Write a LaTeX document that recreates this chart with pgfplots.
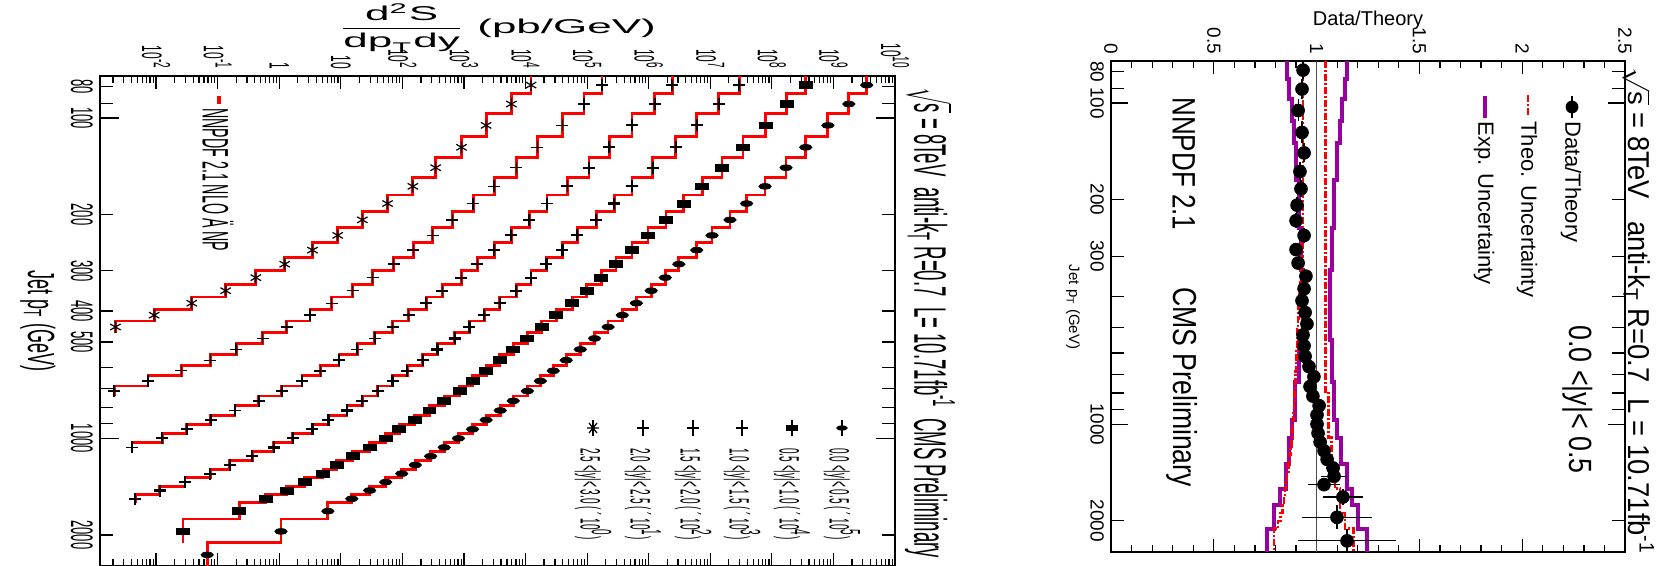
\documentclass[border=0pt]{standalone}
\usepackage{fontspec}
\setmainfont{Liberation Sans}
\usepackage{amsmath}
\usepackage{graphicx}
\usepackage{pgfplots}
\pgfplotsset{compat=1.18}
\definecolor{purp}{RGB}{153,0,160}
\definecolor{hred}{RGB}{255,0,0}
\newcommand{\lx}[1]{\scalebox{1}[2.35]{#1}}
\newcommand{\ly}[1]{\scalebox{1}[2.4]{#1}}
\begin{document}
\begin{tikzpicture}
\path[use as bounding box] (0pt,0pt) rectangle (837.5pt,283pt);
% ================= LEFT PANEL =================
\begin{axis}[
 at={(50pt,0pt)}, anchor=south west, scale only axis, width=397.5pt, height=245pt,
 xmode=log, ymode=log, y dir=reverse,
 xmin=1.23e-3, xmax=1e10, ymin=74, ymax=2500,
 axis line style={line width=1pt},
 tick align=inside, major tick length=6.5pt, minor tick length=3.5pt,
 tick style={black, line width=0.6pt},
 xtick={1e-2,1e-1,1,10,1e2,1e3,1e4,1e5,1e6,1e7,1e8,1e9,1e10},
 xticklabels={\lx{10\textsuperscript{-2}},\lx{10\textsuperscript{-1}},\lx{1},\lx{10},\lx{10\textsuperscript{2}},\lx{10\textsuperscript{3}},\lx{10\textsuperscript{4}},\lx{10\textsuperscript{5}},\lx{10\textsuperscript{6}},\lx{10\textsuperscript{7}},\lx{10\textsuperscript{8}},\lx{10\textsuperscript{9}},\lx{10\textsuperscript{10}}},
 minor xtick={2e-3,3e-3,4e-3,5e-3,6e-3,7e-3,8e-3,9e-3,2e-2,3e-2,4e-2,5e-2,6e-2,7e-2,8e-2,9e-2,0.2,0.3,0.4,0.5,0.6,0.7,0.8,0.9,2,3,4,5,6,7,8,9,20,30,40,50,60,70,80,90,200,300,400,500,600,700,800,900,2e3,3e3,4e3,5e3,6e3,7e3,8e3,9e3,2e4,3e4,4e4,5e4,6e4,7e4,8e4,9e4,2e5,3e5,4e5,5e5,6e5,7e5,8e5,9e5,2e6,3e6,4e6,5e6,6e6,7e6,8e6,9e6,2e7,3e7,4e7,5e7,6e7,7e7,8e7,9e7,2e8,3e8,4e8,5e8,6e8,7e8,8e8,9e8,2e9,3e9,4e9,5e9,6e9,7e9,8e9,9e9},
 xticklabel pos=right,
 xticklabel style={rotate=-90, anchor=east, font=\fontsize{6pt}{6pt}\selectfont},
 ytick={80,90,200,300,400,500,600,700,800,900,2000},
 yticklabels={\ly{80},,\ly{200},\ly{300},\ly{400},\ly{500},,,,,\ly{2000}},
 extra y ticks={100,1000}, extra y tick labels={\ly{100},\ly{1000}},
 extra y tick style={major tick length=9.5pt},
 yticklabel pos=left,
 yticklabel style={rotate=-90, anchor=north, font=\fontsize{6.5pt}{6.5pt}\selectfont},
 clip mode=individual,
]
% NLO theory histograms
\addplot[hred, line width=1.4pt] coordinates {(3.47e9,74)(3.47e9,84)(1.78e9,84)(1.78e9,97)(8.13e8,97)(8.13e8,114)(3.55e8,114)(3.55e8,133)(1.70e8,133)(1.70e8,153)(7.76e7,153)(7.76e7,174)(3.89e7,174)(3.89e7,196)(2.09e7,196)(2.09e7,220)(1.07e7,220)(1.07e7,245)(6.03e6,245)(6.03e6,272)(3.09e6,272)(3.09e6,300)(1.86e6,300)(1.86e6,330)(1.10e6,330)(1.10e6,362)(6.31e5,362)(6.31e5,395)(3.72e5,395)(3.72e5,430)(2.19e5,430)(2.19e5,468)(1.32e5,468)(1.32e5,507)(7.76e4,507)(7.76e4,548)(4.57e4,548)(4.57e4,592)(2.82e4,592)(2.82e4,638)(1.74e4,638)(1.74e4,686)(1.07e4,686)(1.07e4,737)(6.31e3,737)(6.31e3,790)(3.89e3,790)(3.89e3,846)(2.29e3,846)(2.29e3,905)(1.38e3,905)(1.38e3,967)(813,967)(813,1032)(479,1032)(479,1101)(288,1101)(288,1172)(162,1172)(162,1248)(97.7,1248)(97.7,1327)(53.7,1327)(53.7,1410)(29.5,1410)(29.5,1497)(15.1,1497)(15.1,1588)(6.17,1588)(6.17,1784)(1.07,1784)(1.07,2116)(0.0676,2116)(0.0676,2500)};
\addplot[hred, line width=1.4pt] coordinates {(3.55e8,74)(3.55e8,84)(1.74e8,84)(1.74e8,97)(7.94e7,97)(7.94e7,114)(3.39e7,114)(3.39e7,133)(1.55e7,133)(1.55e7,153)(7.41e6,153)(7.41e6,174)(3.72e6,174)(3.72e6,196)(1.91e6,196)(1.91e6,220)(9.77e5,220)(9.77e5,245)(5.37e5,245)(5.37e5,272)(2.95e5,272)(2.95e5,300)(1.70e5,300)(1.70e5,330)(9.77e4,330)(9.77e4,362)(5.75e4,362)(5.75e4,395)(3.16e4,395)(3.16e4,430)(1.82e4,430)(1.82e4,468)(1.07e4,468)(1.07e4,507)(6.31e3,507)(6.31e3,548)(3.80e3,548)(3.80e3,592)(2.29e3,592)(2.29e3,638)(1.38e3,638)(1.38e3,686)(851,686)(851,737)(479,737)(479,790)(275,790)(275,846)(158,846)(158,905)(89.1,905)(89.1,967)(53.7,967)(53.7,1032)(29.5,1032)(29.5,1101)(15.5,1101)(15.5,1172)(8.51,1172)(8.51,1248)(5.13,1248)(5.13,1327)(2.57,1327)(2.57,1410)(1.32,1410)(1.32,1497)(0.603,1497)(0.603,1588)(0.224,1588)(0.224,1784)(0.0275,1784)(0.0275,2116)};
\addplot[hred, line width=1.4pt] coordinates {(2.95e7,74)(2.95e7,84)(1.38e7,84)(1.38e7,97)(6.03e6,97)(6.03e6,114)(2.75e6,114)(2.75e6,133)(1.17e6,133)(1.17e6,153)(5.37e5,153)(5.37e5,174)(2.75e5,174)(2.75e5,196)(1.41e5,196)(1.41e5,220)(6.92e4,220)(6.92e4,245)(3.98e4,245)(3.98e4,272)(2.19e4,272)(2.19e4,300)(1.23e4,300)(1.23e4,330)(7.08e3,330)(7.08e3,362)(3.80e3,362)(3.80e3,395)(2.14e3,395)(2.14e3,430)(1.23e3,430)(1.23e3,468)(708,468)(708,507)(372,507)(372,548)(214,548)(214,592)(120,592)(120,638)(69.2,638)(69.2,686)(39.8,686)(39.8,737)(22.4,737)(22.4,790)(12.6,790)(12.6,846)(6.31,846)(6.31,905)(3.47,905)(3.47,967)(1.66,967)(1.66,1032)(0.813,1032)(0.813,1101)(0.363,1101)(0.363,1172)(0.158,1172)(0.158,1248)(0.0759,1248)(0.0759,1327)(0.0295,1327)(0.0295,1410)(0.0115,1410)(0.0115,1497)(0.00457,1497)(0.00457,1588)};
\addplot[hred, line width=1.4pt] coordinates {(2.40e6,74)(2.40e6,84)(1.26e6,84)(1.26e6,97)(5.37e5,97)(5.37e5,114)(2.29e5,114)(2.29e5,133)(1.07e5,133)(1.07e5,153)(4.79e4,153)(4.79e4,174)(2.24e4,174)(2.24e4,196)(1.15e4,196)(1.15e4,220)(5.89e3,220)(5.89e3,245)(3.09e3,245)(3.09e3,272)(1.66e3,272)(1.66e3,300)(912,300)(912,330)(447,330)(447,362)(245,362)(245,395)(126,395)(126,430)(69.2,430)(69.2,468)(35.5,468)(35.5,507)(18.6,507)(18.6,548)(9.33,548)(9.33,592)(4.68,592)(4.68,638)(2.34,638)(2.34,686)(1.10,686)(1.10,737)(0.468,737)(0.468,790)(0.191,790)(0.191,846)(0.0776,846)(0.0776,905)(0.0316,905)(0.0316,967)(0.0126,967)(0.0126,1032)(0.00407,1032)(0.00407,1101)};
\addplot[hred, line width=1.4pt] coordinates {(1.74e5,74)(1.74e5,84)(8.91e4,84)(8.91e4,97)(3.98e4,97)(3.98e4,114)(1.55e4,114)(1.55e4,133)(7.08e3,133)(7.08e3,153)(3.09e3,153)(3.09e3,174)(1.41e3,174)(1.41e3,196)(646,196)(646,220)(309,220)(309,245)(151,245)(151,272)(72.4,272)(72.4,300)(33.1,300)(33.1,330)(15.5,330)(15.5,362)(7.08,362)(7.08,395)(3.16,395)(3.16,430)(1.32,430)(1.32,468)(0.537,468)(0.537,507)(0.200,507)(0.200,548)(0.0759,548)(0.0759,592)(0.0257,592)(0.0257,638)(0.00741,638)(0.00741,686)(0.00209,686)(0.00209,737)};
\addplot[hred, line width=1.4pt] coordinates {(1.23e4,74)(1.23e4,84)(5.89e3,84)(5.89e3,97)(2.29e3,97)(2.29e3,114)(912,114)(912,133)(347,133)(347,153)(148,153)(148,174)(57.5,174)(57.5,196)(22.4,196)(22.4,220)(8.91,220)(8.91,245)(3.47,245)(3.47,272)(1.23,272)(1.23,300)(0.417,300)(0.417,330)(0.135,330)(0.135,362)(0.0380,362)(0.0380,395)(0.00933,395)(0.00933,430)(0.00219,430)(0.00219,468)};
% data
\addplot[only marks, mark=*, mark size=1.4pt, mark options={xscale=2.2, black}] coordinates {(3.47e9,79)(1.78e9,90.5)(8.13e8,105.5)(3.55e8,123.5)(1.70e8,143)(7.76e7,163.5)(3.89e7,185)(2.09e7,208)(1.07e7,232.5)(6.03e6,258.5)(3.09e6,286)(1.86e6,315)(1.10e6,346)(6.31e5,378.5)(3.72e5,412.5)(2.19e5,449)(1.32e5,487.5)(7.76e4,527.5)(4.57e4,570)(2.82e4,615)(1.74e4,662)(1.07e4,711.5)(6.31e3,763.5)(3.89e3,818)(2.29e3,875.5)(1.38e3,936)(813,999.5)(479,1066.5)(288,1136.5)(162,1210)(97.7,1287.5)(53.7,1368.5)(29.5,1453.5)(15.1,1542.5)(6.17,1686)(1.07,1950)(0.0676,2308)};
\addplot[only marks, mark=square*, mark size=1.7pt, mark options={xscale=1.9, black}] coordinates {(3.55e8,79)(1.74e8,90.5)(7.94e7,105.5)(3.39e7,123.5)(1.55e7,143)(7.41e6,163.5)(3.72e6,185)(1.91e6,208)(9.77e5,232.5)(5.37e5,258.5)(2.95e5,286)(1.70e5,315)(9.77e4,346)(5.75e4,378.5)(3.16e4,412.5)(1.82e4,449)(1.07e4,487.5)(6.31e3,527.5)(3.80e3,570)(2.29e3,615)(1.38e3,662)(851,711.5)(479,763.5)(275,818)(158,875.5)(89.1,936)(53.7,999.5)(29.5,1066.5)(15.5,1136.5)(8.51,1210)(5.13,1287.5)(2.57,1368.5)(1.32,1453.5)(0.603,1542.5)(0.224,1686)(0.0275,1950)};
\addplot[only marks, mark=+, mark size=3pt, mark options={line width=1.1pt, black}] coordinates {(2.95e7,79)(1.38e7,90.5)(6.03e6,105.5)(2.75e6,123.5)(1.17e6,143)(5.37e5,163.5)(2.75e5,185)(1.41e5,208)(6.92e4,232.5)(3.98e4,258.5)(2.19e4,286)(1.23e4,315)(7.08e3,346)(3.80e3,378.5)(2.14e3,412.5)(1.23e3,449)(708,487.5)(372,527.5)(214,570)(120,615)(69.2,662)(39.8,711.5)(22.4,763.5)(12.6,818)(6.31,875.5)(3.47,936)(1.66,999.5)(0.813,1066.5)(0.363,1136.5)(0.158,1210)(0.0759,1287.5)(0.0295,1368.5)(0.0115,1453.5)(0.00457,1542.5)};
\addplot[only marks, mark=+, mark size=3pt, mark options={line width=0.9pt, black}] coordinates {(2.40e6,79)(1.26e6,90.5)(5.37e5,105.5)(2.29e5,123.5)(1.07e5,143)(4.79e4,163.5)(2.24e4,185)(1.15e4,208)(5.89e3,232.5)(3.09e3,258.5)(1.66e3,286)(912,315)(447,346)(245,378.5)(126,412.5)(69.2,449)(35.5,487.5)(18.6,527.5)(9.33,570)(4.68,615)(2.34,662)(1.10,711.5)(0.468,763.5)(0.191,818)(0.0776,875.5)(0.0316,936)(0.0126,999.5)(0.00407,1066.5)};
\addplot[only marks, mark=+, mark size=3pt, mark options={line width=0.7pt, black}] coordinates {(1.74e5,79)(8.91e4,90.5)(3.98e4,105.5)(1.55e4,123.5)(7.08e3,143)(3.09e3,163.5)(1.41e3,185)(646,208)(309,232.5)(151,258.5)(72.4,286)(33.1,315)(15.5,346)(7.08,378.5)(3.16,412.5)(1.32,449)(0.537,487.5)(0.200,527.5)(0.0759,570)(0.0257,615)(0.00741,662)(0.00209,711.5)};
\addplot[only marks, mark=asterisk, mark size=3pt, mark options={line width=0.6pt, black}] coordinates {(1.23e4,79)(5.89e3,90.5)(2.29e3,105.5)(912,123.5)(347,143)(148,163.5)(57.5,185)(22.4,208)(8.91,232.5)(3.47,258.5)(1.23,286)(0.417,315)(0.135,346)(0.0380,378.5)(0.00933,412.5)(0.00219,449)};
\end{axis}
% ================= RIGHT PANEL =================
\pgfplotstableread{
pt r ex ey
79 0.934 0.01 5
90.5 0.929 0.01 6.5
105.5 0.910 0.01 8.5
123.5 0.929 0.01 9.5
143 0.939 0.01 10
163.5 0.919 0.01 10.5
185 0.924 0.01 11
208 0.905 0.01 12
232.5 0.900 0.01 12.5
258.5 0.939 0.01 13.5
286 0.900 0.01 14
315 0.910 0.01 15
346 0.948 0.01 16
378.5 0.939 0.01 16.5
412.5 0.929 0.01 17.5
449 0.944 0.01 19
487.5 0.953 0.01 19.5
527.5 0.934 0.01 20.5
570 0.939 0.01 22
615 0.944 0.01 23
662 0.963 0.012 24
711.5 0.987 0.012 25.5
763.5 0.968 0.012 26.5
818 0.982 0.012 28
875.5 1.012 0.012 29.5
936 1.002 0.012 31
999.5 1.002 0.015 32.5
1066.5 1.007 0.015 34.5
1136.5 1.017 0.015 35.5
1210 1.036 0.02 38
1287.5 1.051 0.025 39.5
1368.5 1.080 0.035 41.5
1453.5 1.085 0.063 43.5
1542.5 1.036 0.077 45.5
1686 1.128 0.097 98
1950 1.099 0.17 166
2308 1.148 0.24 192
}\ratiodata
\begin{axis}[
 at={(555.5pt,7pt)}, anchor=south west, scale only axis, width=257pt, height=245.5pt,
 ymode=log, y dir=reverse,
 xmin=0, xmax=2.5, ymin=74, ymax=2500,
 axis line style={line width=0.8pt},
 tick align=inside, major tick length=6.5pt, minor tick length=3.5pt,
 tick style={black, line width=0.6pt},
 xtick={0,0.5,1,1.5,2,2.5}, xticklabels={0,0.5,1,1.5,2,2.5}, minor x tick num=4,
 xticklabel pos=right,
 xticklabel style={rotate=-90, anchor=east, font=\fontsize{9.5pt}{9.5pt}\selectfont},
 ytick={80,90,200,300,400,500,600,700,800,900,2000},
 yticklabels={80,,200,300,,,,,,,2000},
 extra y ticks={100,1000}, extra y tick labels={100,1000},
 extra y tick style={major tick length=8.5pt},
 yticklabel pos=left,
 yticklabel style={rotate=-90, anchor=north, font=\fontsize{9.5pt}{9.5pt}\selectfont},
 clip mode=individual,
]
\addplot[purp, line width=2pt] coordinates {(0.856,74)(0.856,84)(0.866,84)(0.866,97)(0.878,97)(0.878,114)(0.888,114)(0.888,133)(0.902,133)(0.902,174)(0.914,174)(0.914,245)(0.925,245)(0.925,330)(0.934,330)(0.934,548)(0.915,548)(0.915,737)(0.895,737)(0.895,967)(0.882,967)(0.882,1101)(0.866,1101)(0.866,1327)(0.850,1327)(0.850,1588)(0.822,1588)(0.822,1784)(0.795,1784)(0.795,2116)(0.759,2116)(0.759,2500)};
\addplot[purp, line width=2pt] coordinates {(1.148,74)(1.148,84)(1.138,84)(1.138,97)(1.124,97)(1.124,114)(1.114,114)(1.114,133)(1.099,133)(1.099,174)(1.085,174)(1.085,245)(1.075,245)(1.075,330)(1.065,330)(1.065,548)(1.075,548)(1.075,737)(1.085,737)(1.085,967)(1.099,967)(1.099,1101)(1.119,1101)(1.119,1327)(1.148,1327)(1.148,1588)(1.172,1588)(1.172,1784)(1.2,1784)(1.2,2116)(1.245,2116)(1.245,2500)};
\addplot[hred, line width=1.3pt, dash pattern=on 3.5pt off 1pt on 1pt off 1pt] coordinates {(0.934,74)(0.934,272)(0.930,272)(0.930,300)(0.928,300)(0.928,330)(0.925,330)(0.925,362)(0.922,362)(0.922,395)(0.915,395)(0.915,430)(0.912,430)(0.912,468)(0.910,468)(0.910,507)(0.907,507)(0.907,548)(0.905,548)(0.905,592)(0.903,592)(0.903,638)(0.900,638)(0.900,686)(0.897,686)(0.897,737)(0.895,737)(0.895,790)(0.893,790)(0.893,846)(0.890,846)(0.890,905)(0.888,905)(0.888,967)(0.886,967)(0.886,1032)(0.882,1032)(0.882,1101)(0.878,1101)(0.878,1172)(0.874,1172)(0.874,1248)(0.870,1248)(0.870,1327)(0.862,1327)(0.862,1410)(0.855,1410)(0.855,1497)(0.850,1497)(0.850,1588)(0.846,1588)(0.846,1684)(0.842,1684)(0.842,1784)(0.835,1784)(0.835,1890)(0.825,1890)(0.825,2000)(0.812,2000)(0.812,2116)(0.793,2116)(0.793,2500)};
\addplot[hred, line width=1.3pt, dash pattern=on 3.5pt off 1pt on 1pt off 1pt] coordinates {(1.044,74)(1.044,790)(1.057,790)(1.057,1101)(1.073,1101)(1.073,1410)(1.09,1410)(1.09,1588)(1.114,1588)(1.114,1890)(1.138,1890)(1.138,2116)(1.18,2116)(1.18,2500)};
\addplot[black!70, line width=0.6pt] coordinates {(1,74)(1,2500)};
\addplot[only marks, mark=*, mark size=3.2pt, black,
  error bars/.cd, x dir=both, x explicit, y dir=both, y explicit, error mark=none,
  error bar style={line width=0.6pt, black}]
  table[x=r, y=pt, x error=ex, y error=ey] {\ratiodata};
\end{axis}
% ================= TEXT, LEFT =================
\node at (248.5pt,269pt) {\fontsize{10pt}{12pt}\selectfont\scalebox{2.2}[1]{$\dfrac{\text{d\textsuperscript{2}S}}{\text{dp}_{\text{T}}\text{dy}}$\ (pb/GeV)}};
\node[rotate=-90] at (19pt,122.5pt) {\fontsize{9pt}{9pt}\selectfont\scalebox{1}[2.1]{Jet p\textsubscript{T} (GeV)}};
\node[rotate=-90, anchor=west, inner sep=0pt] at (465pt,239pt) {\fontsize{9.3pt}{9.3pt}\selectfont\scalebox{1}[2.45]{$\sqrt{\text{s}}$ = 8TeV\ \ anti-k\textsubscript{T} R=0.7\ \ L= 10.71fb\textsuperscript{-1}\ \ CMS Preliminary}};
\node[rotate=-90, anchor=west, inner sep=0pt] at (109pt,229pt) {\fontsize{7.1pt}{7.1pt}\selectfont\scalebox{1}[2.6]{NNPDF 2.1 NLO Ä NP}};
\draw[hred, line width=2pt] (109.5pt,235pt) -- (109.5pt,231pt);
% rapidity legend
\foreach \xx/\txt in {421/{0.0 <|y|< 0.5 ( ´ 10\textsuperscript{5})}, 396/{0.5 <|y|< 1.0 ( ´ 10\textsuperscript{4})}, 371/{1.0 <|y|< 1.5 ( ´ 10\textsuperscript{3})}, 346.5/{1.5 <|y|< 2.0 ( ´ 10\textsuperscript{2})}, 321.5/{2.0 <|y|< 2.5 ( ´ 10\textsuperscript{1})}, 296.5/{2.5 <|y|< 3.0 ( ´ 10\textsuperscript{0})}}{
  \node[rotate=-90, anchor=west, inner sep=0pt] at (\xx pt,59pt) {\fontsize{5pt}{5pt}\selectfont\scalebox{1}[2.8]{\txt}};
  \draw[line width=0.6pt] (\xx pt,65pt) -- (\xx pt,73pt);
}
\fill (421pt,69pt) ellipse (2.9pt and 1.3pt);
\fill (393pt,67.4pt) rectangle (399pt,70.6pt);
\draw[line width=1.1pt] (368pt,69pt) -- (374pt,69pt);
\draw[line width=0.9pt] (343.5pt,69pt) -- (349.5pt,69pt);
\draw[line width=0.7pt] (318.5pt,69pt) -- (324.5pt,69pt);
\draw[line width=0.6pt] (293.5pt,69pt) -- (299.5pt,69pt) (294.5pt,66.5pt) -- (298.5pt,71.5pt) (294.5pt,71.5pt) -- (298.5pt,66.5pt);
% ================= TEXT, RIGHT =================
\node at (684pt,273pt) {\fontsize{10pt}{10pt}\selectfont Data/Theory};
\node[rotate=-90] at (536.5pt,129.5pt) {\fontsize{7.5pt}{7.5pt}\selectfont Jet p\textsubscript{T} (GeV)};
\node[rotate=-90, anchor=west, inner sep=0pt] at (592pt,234.5pt) {\fontsize{13pt}{13pt}\selectfont\scalebox{1}[1.25]{NNPDF 2.1}};
\node[rotate=-90, anchor=west, inner sep=0pt] at (591pt,139.5pt) {\fontsize{13.3pt}{13.3pt}\selectfont\scalebox{1}[1.25]{CMS Preliminary}};
\node[rotate=-90, anchor=west, inner sep=0pt] at (789pt,120.5pt) {\fontsize{13.4pt}{13.4pt}\selectfont\scalebox{1}[1.2]{0.0 <|y|< 0.5}};
\node[rotate=-90, anchor=base west, inner sep=0pt] at (814pt,249.5pt) {\fontsize{13.7pt}{13.7pt}\selectfont\scalebox{1}[1.1]{\scalebox{1}[0.85]{$\sqrt{\text{s}}$} = 8TeV\ \ \ anti-k\textsubscript{T} R=0.7\ \ L = 10.71fb\textsuperscript{-1}}};
% legend
\draw[line width=0.6pt] (786pt,235pt) -- (786pt,224pt);
\fill (786pt,229.5pt) circle (3.2pt);
\node[rotate=-90, anchor=west, inner sep=0pt] at (785.5pt,222.5pt) {\fontsize{11pt}{11pt}\selectfont Data/Theory};
\draw[hred, line width=1.3pt, dash pattern=on 3.5pt off 1pt on 1pt off 1pt] (764pt,235.5pt) -- (764pt,225pt);
\node[rotate=-90, anchor=west, inner sep=0pt] at (763.5pt,222.5pt) {\fontsize{11pt}{11pt}\selectfont Theo. Uncertainty};
\draw[purp, line width=2pt] (742.5pt,235pt) -- (742.5pt,224pt);
\node[rotate=-90, anchor=west, inner sep=0pt] at (742pt,222.5pt) {\fontsize{11pt}{11pt}\selectfont Exp. Uncertainty};
\end{tikzpicture}
\end{document}
